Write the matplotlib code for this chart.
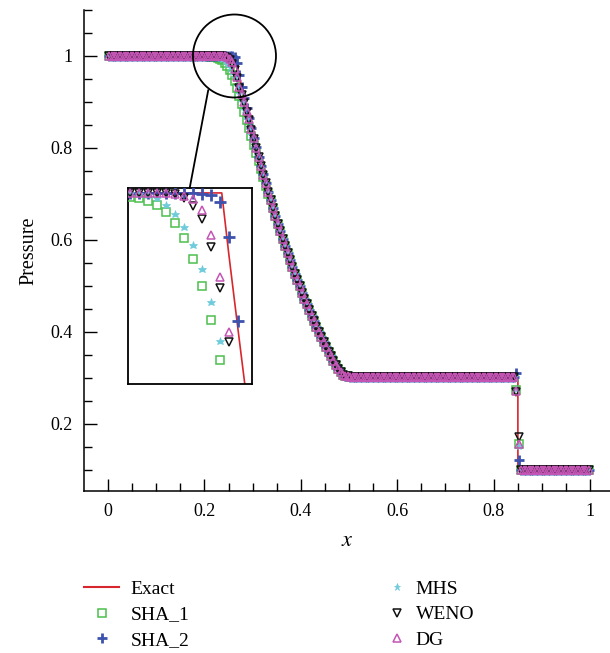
import numpy as np
import matplotlib
matplotlib.use("Agg")
import matplotlib.pyplot as plt
from matplotlib.patches import Ellipse, ConnectionPatch
from matplotlib.ticker import MultipleLocator, FixedLocator, FixedFormatter
from matplotlib.lines import Line2D

plt.rcParams['font.family'] = ['Liberation Serif', 'DejaVu Serif']
plt.rcParams['mathtext.fontset'] = 'stix'

# ---------------- data ----------------
N_CELLS = 200
x = (np.arange(N_CELLS) + 0.5) / N_CELLS          # cell centres

P_LEFT, P_STAR, P_RIGHT = 1.0, 0.303, 0.1
N_LEFT = 42        # cells on the left plateau before the head region
N_STAR_END = 169   # first cell of shock region

# exact solution: rarefaction fan values at cells x[53:97]
fan_exact = [0.9797, 0.9558, 0.9323, 0.9093, 0.8868, 0.8648, 0.8433, 0.8223,
             0.8016, 0.7814, 0.7617, 0.7424, 0.7235, 0.7050, 0.6869, 0.6693,
             0.6520, 0.6351, 0.6186, 0.6024, 0.5866, 0.5712, 0.5561, 0.5414,
             0.5270, 0.5129, 0.4992, 0.4858, 0.4726, 0.4598, 0.4473, 0.4351,
             0.4231, 0.4114, 0.4001, 0.3890, 0.3781, 0.3676, 0.3572, 0.3471,
             0.3373, 0.3277, 0.3184, 0.3092]
x_head, x_tail, x_shock = 0.2635, 0.4860, 0.8504
p_star_exact = 0.3031

# numerical: shared fan body (cells 67..99)
fan_body = [0.6869, 0.6693, 0.6520, 0.6351, 0.6186, 0.6024, 0.5866, 0.5712,
            0.5561, 0.5414, 0.5270, 0.5129, 0.4992, 0.4858, 0.4726, 0.4598,
            0.4473, 0.4351, 0.4231, 0.4114, 0.4001, 0.3890, 0.3781, 0.3676,
            0.3572, 0.3471, 0.3380, 0.3290, 0.3205, 0.3125, 0.3065, 0.3040,
            0.3033]

# numerical: head region (cells 42..66), per scheme
head_sha1 = [0.9988, 0.9983, 0.9975, 0.9961, 0.9937, 0.9904, 0.9855, 0.9787,
             0.9698, 0.9588, 0.9458, 0.930, 0.913, 0.895, 0.878, 0.861, 0.843,
             0.825, 0.807, 0.790, 0.771, 0.754, 0.736, 0.718, 0.701]
head_sha2 = [1.0, 1.0, 1.0, 1.0, 1.0, 1.0, 1.0, 1.0, 0.9997, 0.9993, 0.9972,
             0.9858, 0.9585, 0.932, 0.909, 0.8865, 0.8648, 0.8433, 0.8223,
             0.8016, 0.7814, 0.7617, 0.7424, 0.7235, 0.7050]
head_mhs = [1.0, 0.9997, 0.9993, 0.9983, 0.9961, 0.9932, 0.9891, 0.9831,
            0.9752, 0.9647, 0.9520, 0.934, 0.918, 0.900, 0.882, 0.864, 0.846,
            0.828, 0.810, 0.792, 0.773, 0.756, 0.737, 0.7195, 0.702]
head_weno = [1.0, 1.0, 1.0, 1.0, 1.0, 0.9997, 0.9983, 0.9958, 0.9915, 0.9826,
             0.9690, 0.9517, 0.930, 0.915, 0.898, 0.879, 0.860, 0.840, 0.820,
             0.800, 0.780, 0.761, 0.742, 0.7235, 0.705]
head_dg = [1.0, 1.0, 1.0, 1.0, 1.0, 0.9995, 0.999, 0.9980, 0.9943, 0.9864,
           0.9728, 0.9550, 0.933, 0.917, 0.900, 0.881, 0.862, 0.8415, 0.821,
           0.801, 0.781, 0.7615, 0.742, 0.7235, 0.705]

# shock cells (169, 170)
shock_sha1 = [0.274, 0.156]
shock_sha2 = [0.311, 0.122]
shock_mhs = [0.276, 0.153]
shock_weno = [0.270, 0.171]
shock_dg = [0.272, 0.157]

labels = ["Exact", "SHA_1", "SHA_2", "MHS", "WENO", "DG"]


def assemble(head, shock):
    n_star = N_STAR_END - (N_LEFT + len(head) + len(fan_body))
    n_right = N_CELLS - N_STAR_END - len(shock)
    return np.concatenate([np.full(N_LEFT, P_LEFT), head, fan_body,
                           np.full(n_star, P_STAR), shock,
                           np.full(n_right, P_RIGHT)])


p_sha1 = assemble(head_sha1, shock_sha1)
p_sha2 = assemble(head_sha2, shock_sha2)
p_mhs = assemble(head_mhs, shock_mhs)
p_weno = assemble(head_weno, shock_weno)
p_dg = assemble(head_dg, shock_dg)

exact_x = np.concatenate([[0.0, x_head], x[53:97], [x_tail, x_shock, x_shock, 1.0]])
exact_p = np.concatenate([[P_LEFT, P_LEFT], fan_exact,
                          [p_star_exact, p_star_exact, P_RIGHT, P_RIGHT]])

# ---------------- styles ----------------
C_EXACT = "#d8262e"
C_SHA1 = "#4cbf4c"
C_SHA2 = "#3d52ad"
C_MHS = "#6dcbdc"
C_WENO = "#111111"
C_DG = "#c455b4"

styles = [
    dict(marker="s", ms=6.0, mfc="none", mec=C_SHA1, mew=1.1),
    dict(marker="+", ms=8.0, mec=C_SHA2, mew=2.0),
    dict(marker="*", ms=6.2, mfc=C_MHS, mec=C_MHS, mew=0.5),
    dict(marker="v", ms=6.4, mfc="none", mec=C_WENO, mew=1.1),
    dict(marker="^", ms=6.4, mfc="none", mec=C_DG, mew=1.1),
]
series = [p_sha1, p_sha2, p_mhs, p_weno, p_dg]


def draw(ax, scale=1.0):
    ax.plot(exact_x, exact_p, color=C_EXACT, lw=1.2, zorder=2)
    for s, st in zip(series, styles):
        st2 = {**st, "ms": st["ms"] * scale}
        ax.plot(x, s, ls="none", zorder=3, **st2)


W, H = 610, 653
fig = plt.figure(figsize=(W / 100, H / 100), dpi=100)

ax = fig.add_axes([84 / W, 1 - 491 / H, (W - 84) / W, (491 - 10) / H])
draw(ax, 0.95)
ax.set_xlim(-0.0498, 1.0415)
ax.set_ylim(0.0543, 1.1)
for sp in ["top", "right"]:
    ax.spines[sp].set_visible(False)
for sp in ["left", "bottom"]:
    ax.spines[sp].set_linewidth(1.1)
ax.xaxis.set_major_locator(FixedLocator([0, 0.2, 0.4, 0.6, 0.8, 1.0]))
ax.xaxis.set_major_formatter(FixedFormatter(["0", "0.2", "0.4", "0.6", "0.8", "1"]))
ax.yaxis.set_major_locator(FixedLocator([0.2, 0.4, 0.6, 0.8, 1.0]))
ax.yaxis.set_major_formatter(FixedFormatter(["0.2", "0.4", "0.6", "0.8", "1"]))
ax.xaxis.set_minor_locator(MultipleLocator(0.05))
ax.yaxis.set_minor_locator(MultipleLocator(0.05))
ax.tick_params(which="both", direction="in", width=1.0, labelsize=13)
ax.tick_params(which="major", length=9)
ax.tick_params(which="minor", length=5.5)
ax.tick_params(axis="x", pad=9)
ax.tick_params(axis="y", pad=8)
ax.set_xlabel("$x$", fontsize=16, labelpad=8)
ax.set_ylabel("Pressure", fontsize=14.5, labelpad=9)

# inset
axin = fig.add_axes([128 / W, 1 - 384 / H, 124 / W, 196 / H])
draw(axin, 1.0)
axin.set_xlim(0.2114, 0.2803)
axin.set_ylim(0.938, 1.0016)
axin.set_xticks([])
axin.set_yticks([])
for sp in axin.spines.values():
    sp.set_linewidth(1.3)

# magnifier circle and connector
circ = Ellipse((0.2624, 1.0), 0.1722, 0.1804, fill=False, ec="black", lw=1.3,
               zorder=5, clip_on=False)
ax.add_patch(circ)
con = ConnectionPatch(xyA=(0.208, 0.926), coordsA=ax.transData,
                      xyB=(0.4976, 1.0), coordsB=axin.transAxes,
                      color="black", lw=1.3)
fig.add_artist(con)

# legends
h_exact = Line2D([], [], color=C_EXACT, lw=1.5)
h_marks = [Line2D([], [], ls="none", **{**st, "ms": st["ms"] * 0.85}) for st in styles]

leg1 = fig.legend([h_exact, h_marks[0], h_marks[1]], labels[:3],
                  loc="upper left", bbox_to_anchor=(84 / W, 1 - 580 / H),
                  frameon=False, fontsize=14, handlelength=1.8,
                  handletextpad=0.59, labelspacing=0.42, borderpad=0,
                  borderaxespad=0, numpoints=1)
leg2 = fig.legend(h_marks[2:], labels[3:],
                  loc="upper left", bbox_to_anchor=(389 / W, 1 - 580 / H),
                  frameon=False, fontsize=14, handlelength=0.78,
                  handletextpad=0.59, labelspacing=0.42, borderpad=0,
                  borderaxespad=0, numpoints=1)

fig.savefig("out.png", dpi=100)
